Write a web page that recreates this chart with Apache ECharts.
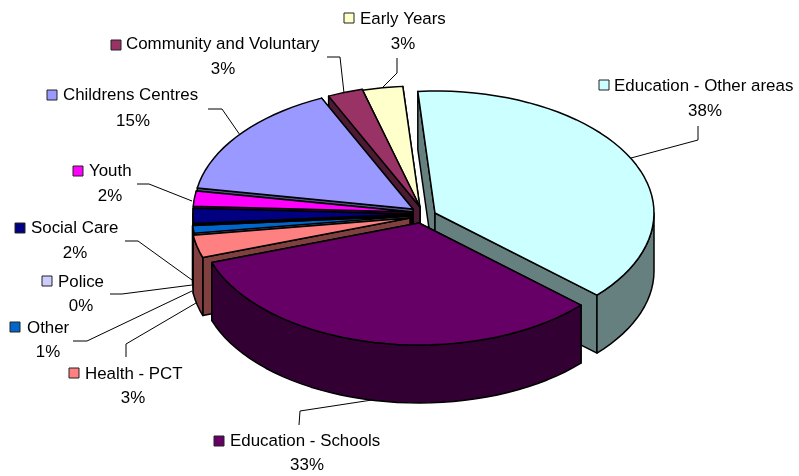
<!DOCTYPE html>
<html><head><meta charset="utf-8">
<style>html,body{margin:0;padding:0;background:#fff}#c{width:799px;height:476px}</style>
<script src="https://cdn.jsdelivr.net/npm/echarts@6/dist/echarts.min.js"></script>
</head><body><div id="c"></div>
<script>
const categories = ['Education - Other areas','Education - Schools','Health - PCT','Other','Police','Social Care','Youth','Childrens Centres','Community and Voluntary','Early Years'];
const values = [38,33,3,1,0,2,2,15.4,2.6,3];
const topColors = ['#CCFFFF','#660066','#FF8080','#0066CC','#CCCCFF','#000080','#FF00FF','#9999FF','#993366','#FFFFCC'];
const wallColors = ['#668080','#330033','#804040','#003366','#666680','#000040','#800080','#4D4D80','#4D1A33','#808066'];
// layout, separate from the data
const apexes = [[435,213],[419,223],[410,218],[411,216],[411,216],[412,214],[412,212],[413,209],[420,207],[420,208]];
const drawRank = [7,9,6,5,5,4,3,2,1,0];
const RX = 219, RY = 122, DEPTH = 58, START = -4.5;
const keyPos = [[604,85],[219,441],[74,373],[15,327],[47,281],[20,228],[78,171],[52,95],[116,45],[349,18]];
const nameLeft = [614,230,85,27,58,31,89,63,126,360];
const nameY = [86,441,374,328,282,228,171,95,44,19];
const pctPos = [[705,111],[307,465],[133,398],[48,352],[81,306],[75,253],[110,196],[133,121],[223,69],[403,44]];
const leaders = [
 [[698,126],[698,140],[631,158]],
 [[299,425],[300,411],[372,400]],
 [[126,357],[126,344],[196,303]],
 [[73,341],[87,341],[192,291]],
 [[110,294],[122,294],[192,285]],
 [[125,241],[138,241],[192,280]],
 [[137,184],[149,184],[192,201]],
 [[208,109],[222,109],[240,135]],
 [[327,57],[340,57],[344,93]],
 [[397,58],[397,73],[382,88]]
];
const total = values.reduce((a,b)=>a+b,0);
const cum = []; values.reduce((a,v,i)=>(cum[i]=a,a+v),0);
const FONT = '16.9px "Liberation Sans"';
const LINE = {stroke:'#000',lineWidth:1.5,lineJoin:'round'};

function renderSlice(params, api){
  const i = params.dataIndex, v = api.value(0);
  const t0 = START + cum[i]/total*360, t1 = t0 + v/total*360;
  const [ax,ay] = apexes[i];
  const P = (t,d)=>{const r=t*Math.PI/180;return [ax+RX*Math.sin(r), ay-RY*Math.cos(r)+(d||0)];};
  const arc = (a,b,d)=>{const n=Math.max(2,Math.ceil(Math.abs(b-a)/3));const o=[];for(let k=0;k<=n;k++)o.push(P(a+(b-a)*k/n,d));return o;};
  const z = drawRank[i]*4+1, kids = [];
  const poly = (pts,fill,zz)=>kids.push({type:'polygon',shape:{points:pts},style:Object.assign({fill},LINE),z2:zz});
  // radial walls: the one turned away from the viewer goes first
  const wall = t=>{const e=P(t,0);poly([[ax,ay],e,[e[0],e[1]+DEPTH],[ax,ay+DEPTH]],wallColors[i],z);};
  if (t0 >= 180) { wall(t1); wall(t0); } else { wall(t0); wall(t1); }
  // outer wall, only where it faces the viewer
  const a = Math.max(t0,90), b = Math.min(t1,270);
  if (b>a) poly(arc(a,b,0).concat(arc(b,a,DEPTH)),wallColors[i],z+1);
  // top face
  poly([[ax,ay]].concat(arc(t0,t1,0)),topColors[i],z+2);
  // label
  const [kx,ky]=keyPos[i];
  kids.push({type:'rect',shape:{x:kx-5,y:ky-5,width:10,height:10},style:{fill:topColors[i],stroke:'#222',lineWidth:1},z2:200});
  kids.push({type:'text',x:nameLeft[i],y:nameY[i],style:{text:categories[i],font:FONT,fill:'#000',textAlign:'left',textVerticalAlign:'middle'},z2:200});
  kids.push({type:'text',x:pctPos[i][0],y:pctPos[i][1],style:{text:Math.round(v/total*100)+'%',font:FONT,fill:'#000',textAlign:'center',textVerticalAlign:'middle'},z2:200});
  kids.push({type:'polyline',shape:{points:leaders[i]},style:{stroke:'#000',lineWidth:1,fill:'none'},z2:200});
  return {type:'group',children:kids};
}
const chart = echarts.init(document.getElementById('c'),null,{renderer:'canvas'});
chart.setOption({
  animation:false,
  backgroundColor:'#fff',
  series:[{type:'custom',coordinateSystem:'none',renderItem:renderSlice,
    data:values.map((v,i)=>({name:categories[i],value:[v]})),silent:true}]
});
</script></body></html>
